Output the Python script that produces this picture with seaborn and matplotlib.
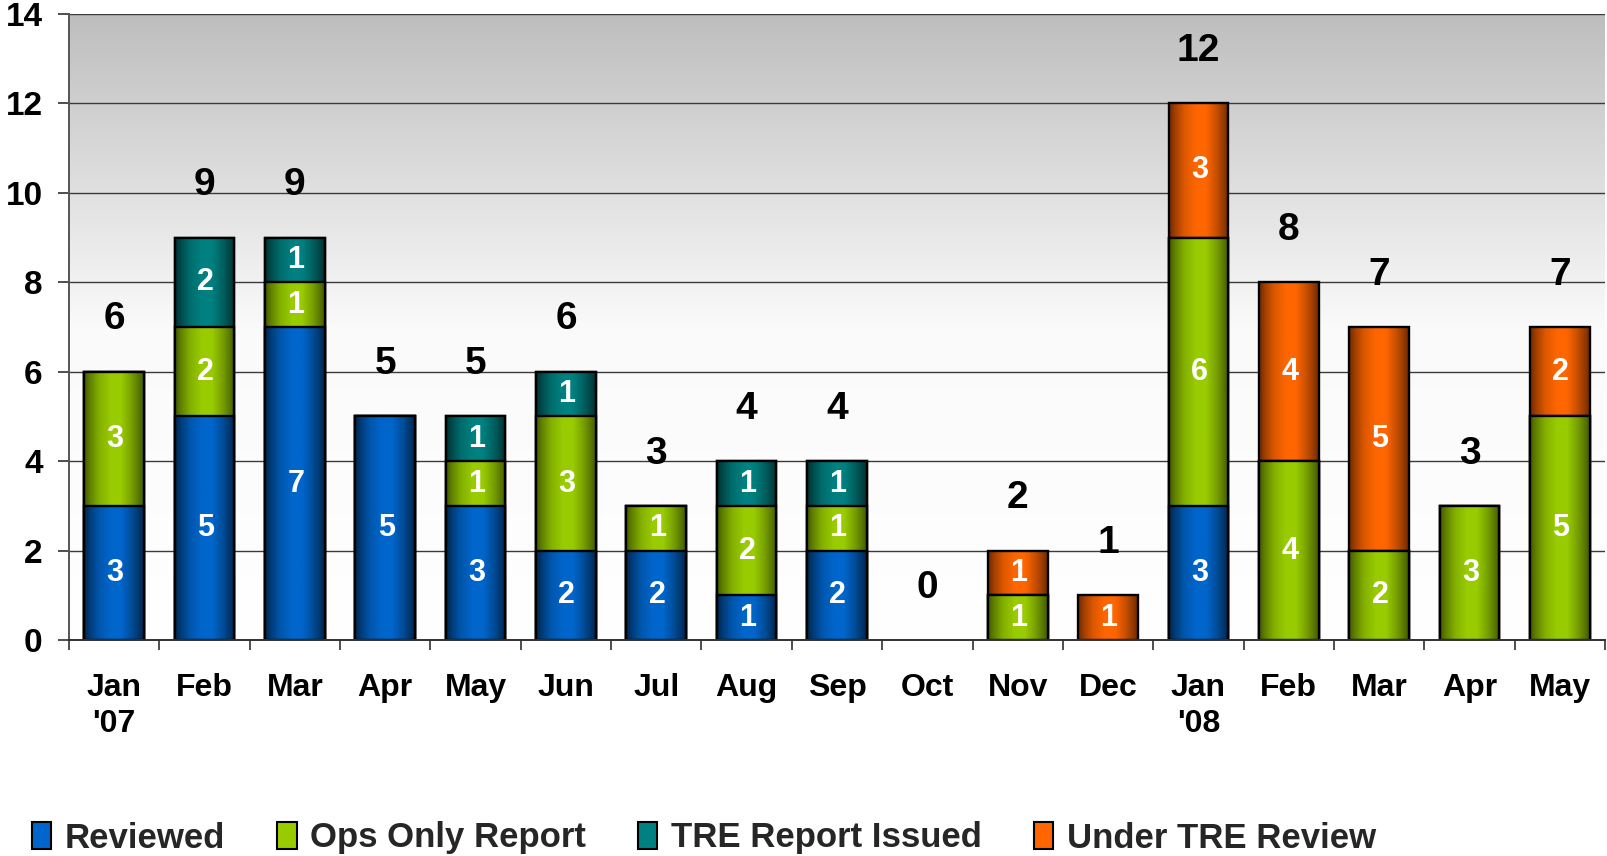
import numpy as np
import pandas as pd
import matplotlib
matplotlib.use("Agg")
import matplotlib.pyplot as plt
import seaborn as sns
from matplotlib.colors import to_rgb, LinearSegmentedColormap
from matplotlib.patches import Patch

# ---------------- data ----------------
months = ["Jan\n'07", "Feb", "Mar", "Apr", "May", "Jun", "Jul", "Aug", "Sep",
          "Oct", "Nov", "Dec", "Jan\n'08", "Feb", "Mar", "Apr", "May"]
keys = [f"m{i:02d}" for i in range(len(months))]

reviewed = [3, 5, 7, 5, 3, 2, 2, 1, 2, 0, 0, 0, 3, 0, 0, 0, 0]
ops_only = [3, 2, 1, 0, 1, 3, 1, 2, 1, 0, 1, 0, 6, 4, 2, 3, 5]
tre_issued = [0, 2, 1, 0, 1, 1, 0, 1, 1, 0, 0, 0, 0, 0, 0, 0, 0]
under_review = [0, 0, 0, 0, 0, 0, 0, 0, 0, 0, 1, 1, 3, 4, 5, 0, 2]

series_names = ["Reviewed", "Ops Only Report", "TRE Report Issued", "Under TRE Review"]
bright_cols = ["#0066CC", "#99CC00", "#008080", "#FF6600"]
dark_cols = ["#00264D", "#435A00", "#003030", "#702A00"]

y_ticks = [0, 2, 4, 6, 8, 10, 12, 14]

# ---------------- figure ----------------
sns.set_theme(style="white")
plt.rcParams["font.family"] = ["Liberation Sans", "DejaVu Sans"]

W, H = 1608, 856
fig = plt.figure(figsize=(W / 100, H / 100), dpi=100)
left, right, top, bottom = 69, 1605, 14, 640
ax = fig.add_axes([left / W, 1 - bottom / H, (right - left) / W, (bottom - top) / H])

n = len(keys)
series = np.array([reviewed, ops_only, tre_issued, under_review])
cums = np.cumsum(series, axis=0)
totals = cums[-1]


def gradient_rgb(layer, npts=100):
    t = np.linspace(0, 1, npts)
    f = np.interp(t, [0, 0.1, 0.25, 0.45, 0.62, 0.8, 0.92, 1],
                  [0.0, 0.35, 0.75, 1.0, 1.0, 0.6, 0.25, 0.0])
    b = np.array(to_rgb(bright_cols[layer]))
    d = np.array(to_rgb(dark_cols[layer]))
    return (d[None, :] + (b - d)[None, :] * f[:, None])[None, :, :]


zbase = 2.0
for k, layer in enumerate([3, 2, 1, 0]):
    before = len(ax.patches)
    sns.barplot(x=keys, y=cums[layer], order=keys, color=bright_cols[layer],
                saturation=1, width=0.66, edgecolor="black", linewidth=1.7,
                errorbar=None, ax=ax)
    z = zbase + k * 0.1
    img = gradient_rgb(layer)
    for p in ax.patches[before:]:
        x0, y0 = p.get_x(), p.get_y()
        w, h = p.get_width(), p.get_height()
        p.set_zorder(z + 0.05)
        p.set_facecolor("none")
        if h <= 0:
            p.set_visible(False)
            continue
        im = ax.imshow(img, extent=(x0, x0 + w, y0, y0 + h), aspect="auto",
                       interpolation="bicubic", zorder=z)
        im.set_clip_path(p)

# background gradient
bg_cmap = LinearSegmentedColormap.from_list("bg", ["#FFFFFF", "#FAFAFA", "#BEBEBE"])
ax.imshow(np.linspace(0, 1, 256)[:, None], extent=(-0.5, n - 0.5, 0, 14), origin="lower",
          aspect="auto", cmap=bg_cmap, zorder=0)

ax.set_xlim(-0.5, n - 0.5)
ax.set_ylim(0, 14)

# grid
for yv in y_ticks[1:]:
    ax.axhline(yv, color="#3A3A3A", lw=1.0, zorder=1)

# labels inside segments
for layer in range(4):
    prev = cums[layer - 1] if layer > 0 else np.zeros(n)
    for i in range(n):
        v = series[layer][i]
        if v > 0:
            ax.text(i + 0.01, prev[i] + v / 2, str(v), ha="center", va="center",
                    color="white", fontsize=22, fontweight="bold", zorder=5)

# totals
for i in range(n):
    ax.text(i, totals[i] + 1.17, str(totals[i]), ha="center", va="center",
            color="black", fontsize=28, fontweight="bold", zorder=5)

# axes styling
ax.set_xlabel("")
ax.set_ylabel("")
ax.set_yticks(y_ticks)
ax.set_yticklabels([str(v) for v in y_ticks], fontsize=24, fontweight="bold")
ax.set_xticks(range(n))
ax.set_xticklabels(months, fontsize=23, fontweight="bold", linespacing=1.25)
ax.set_xticks(np.arange(-0.5, n, 1.0), minor=True)
ax.tick_params(axis="x", which="major", length=0, pad=24, colors="black")
ax.tick_params(axis="x", which="minor", length=7.5, width=1.2, color="#303030", direction="out",
               bottom=True)
ax.tick_params(axis="y", which="major", length=8, width=1.2, color="#303030", direction="out",
               pad=11, left=True, colors="black")
ax.tick_params(axis="y", colors="#303030", labelcolor="black")
for s in ["top", "right"]:
    ax.spines[s].set_visible(False)
ax.spines["left"].set_color("#555555")
ax.spines["left"].set_linewidth(1.4)
ax.spines["bottom"].set_color("#303030")
ax.spines["bottom"].set_linewidth(1.4)
ax.spines["left"].set_zorder(6)
ax.spines["bottom"].set_zorder(6)

# legend
handles = [Patch(facecolor=bright_cols[i], edgecolor="black", linewidth=1.5) for i in range(4)]
fig.legend(handles, series_names, loc="center left", bbox_to_anchor=(32 / W, 18 / H),
           ncol=4, frameon=False, prop={"size": 25, "weight": "bold"},
           handlelength=0.55, handleheight=0.8, handletextpad=0.4,
           columnspacing=1.5, borderpad=0, borderaxespad=0)

fig.savefig("out.png", dpi=100)
